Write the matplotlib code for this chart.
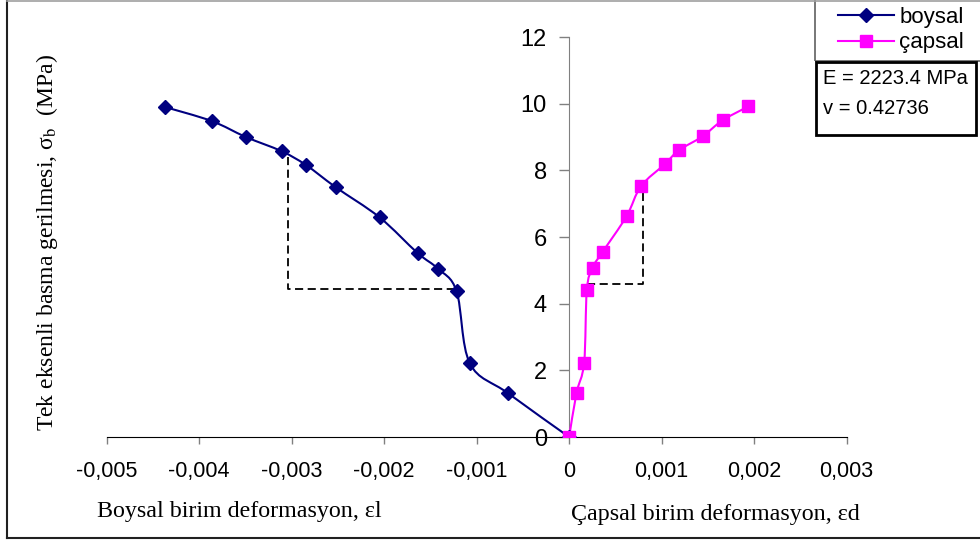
import matplotlib
matplotlib.use("Agg")
import matplotlib.pyplot as plt
from matplotlib.path import Path
from matplotlib.patches import PathPatch, Rectangle
from matplotlib.lines import Line2D

# boysal (eksenel) birim deformasyon - gerilme
boysal_x = [0.0, -0.000659, -0.001074, -0.001217, -0.001419, -0.001639, -0.002050,
            -0.002522, -0.002846, -0.003106, -0.003495, -0.003866, -0.004370]
boysal_y = [0.0, 1.31, 2.21, 4.37, 5.05, 5.52, 6.59, 7.49, 8.16, 8.57, 9.00, 9.48, 9.90]

# çapsal birim deformasyon - gerilme
capsal_x = [0.0, 0.000080, 0.000162, 0.000191, 0.000253, 0.000361, 0.000620,
            0.000775, 0.001031, 0.001186, 0.001442, 0.001658, 0.001939]
capsal_y = [0.0, 1.33, 2.23, 4.41, 5.08, 5.55, 6.62, 7.52, 8.18, 8.60, 9.02, 9.50, 9.92]

# elastisite modülü hesabında kullanılan aralıklar
sol_kesik_x = [-0.00304, -0.00304, -0.00126]
sol_kesik_y = [8.40, 4.43, 4.43]
sag_kesik_x = [0.00019, 0.00080, 0.00080]
sag_kesik_y = [4.60, 4.60, 7.40]

x_ticks = [-0.005, -0.004, -0.003, -0.002, -0.001, 0, 0.001, 0.002, 0.003]
x_tick_labels = ['-0,005', '-0,004', '-0,003', '-0,002', '-0,001', '0', '0,001', '0,002', '0,003']
y_ticks = [0, 2, 4, 6, 8, 10, 12]

E_text = "E = 2223.4 MPa"
v_text = "v = 0.42736"


def yumusak_egri(xs, ys):
    # Excel tarzi yumusatilmis cizgi: her aralik icin kubik bezier
    n = len(xs)
    verts = [(xs[0], ys[0])]
    codes = [Path.MOVETO]
    for i in range(n - 1):
        i0 = max(i - 1, 0)
        i3 = min(i + 2, n - 1)
        c1 = (xs[i] + (xs[i + 1] - xs[i0]) / 6, ys[i] + (ys[i + 1] - ys[i0]) / 6)
        c2 = (xs[i + 1] - (xs[i3] - xs[i]) / 6, ys[i + 1] - (ys[i3] - ys[i]) / 6)
        verts += [c1, c2, (xs[i + 1], ys[i + 1])]
        codes += [Path.CURVE4] * 3
    return Path(verts, codes)


plt.rcParams['font.family'] = ['Liberation Sans', 'DejaVu Sans']
plt.rcParams['mathtext.fontset'] = 'stix'

fig = plt.figure(figsize=(9.8, 5.42), dpi=100)
ax = fig.add_axes([0.1089, 0.1937, 0.755, 0.738])

lacivert = '#000080'
pembe = '#FF00FF'

ax.add_patch(PathPatch(yumusak_egri(boysal_x, boysal_y), fill=False, ec=lacivert, lw=1.5, zorder=3))
ax.add_patch(PathPatch(yumusak_egri(capsal_x, capsal_y), fill=False, ec=pembe, lw=1.5, zorder=3))
ax.plot(boysal_x, boysal_y, ls='none', marker='D', ms=7.5, color=lacivert, zorder=4)
ax.plot(capsal_x, capsal_y, ls='none', marker='s', ms=8.5, color=pembe, zorder=4)

ax.plot(sol_kesik_x, sol_kesik_y, color='black', lw=1.3, ls=(0, (4.5, 2.5)), zorder=2)
ax.plot(sag_kesik_x, sag_kesik_y, color='black', lw=1.3, ls=(0, (4.5, 2.5)), zorder=2)

ax.set_xlim(-0.005, 0.003)
ax.set_ylim(0, 12)
ax.spines['left'].set_position(('data', 0))
ax.spines['left'].set_color('#808080')
ax.spines['top'].set_visible(False)
ax.spines['right'].set_visible(False)
ax.set_xticks(x_ticks)
ax.set_xticklabels(x_tick_labels)
ax.set_yticks(y_ticks)
ax.tick_params(axis='x', direction='out', length=5, width=1, color='#808080', pad=12, labelsize=15.5)
ax.tick_params(axis='y', direction='out', length=7, width=1, color='#808080', pad=9, labelsize=17)
ax.patch.set_visible(False)

# eksen etiketleri
fig.text(0.048, 0.553, 'Tek eksenli basma gerilmesi, σ$_\\mathrm{b}$  (MPa)', rotation=90,
         ha='center', va='center', fontsize=17, family='Liberation Serif')
fig.text(0.244, 0.057, 'Boysal birim deformasyon, εl', ha='center', va='center',
         fontsize=17.3, family='Liberation Serif')
fig.text(0.7296, 0.051, 'Çapsal birim deformasyon, εd', ha='center', va='center',
         fontsize=17.3, family='Liberation Serif')

# lejant (cerceve ayrica ciziliyor)
h1 = Line2D([], [], color=lacivert, marker='D', ms=7.5, lw=1.5)
h2 = Line2D([], [], color=pembe, marker='s', ms=8.5, lw=1.5)
fig.legend([h1, h2], ['boysal', 'çapsal'], loc='upper left', bbox_to_anchor=(838 / 980, 1 - 7 / 542),
           fontsize=16, frameon=False, handlelength=2.5, handletextpad=0.25,
           borderpad=0, labelspacing=0.2, borderaxespad=0)
fig.add_artist(Rectangle((815 / 980, 1 - 61 / 542), 200 / 980, 80 / 542, transform=fig.transFigure,
                         fill=False, ec='#606060', lw=1.2))

# E ve v kutusu
fig.add_artist(Rectangle((816 / 980, 1 - 135 / 542), 160 / 980, 73 / 542, transform=fig.transFigure,
                         fill=False, ec='black', lw=2))
fig.text(823 / 980, 1 - 79 / 542, E_text, ha='left', va='center', fontsize=14.5)
fig.text(823 / 980, 1 - 108 / 542, v_text, ha='left', va='center', fontsize=14.5)

# dis cerceve
fig.add_artist(Line2D([7 / 980, 7 / 980], [0.008, 1], transform=fig.transFigure, color='#202020', lw=1.5))
fig.add_artist(Line2D([7 / 980, 1], [0.008, 0.008], transform=fig.transFigure, color='#202020', lw=1.5))
fig.add_artist(Line2D([7 / 980, 1], [0.999, 0.999], transform=fig.transFigure, color='#a0a0a0', lw=1.2))

fig.savefig('out.png', dpi=100)
